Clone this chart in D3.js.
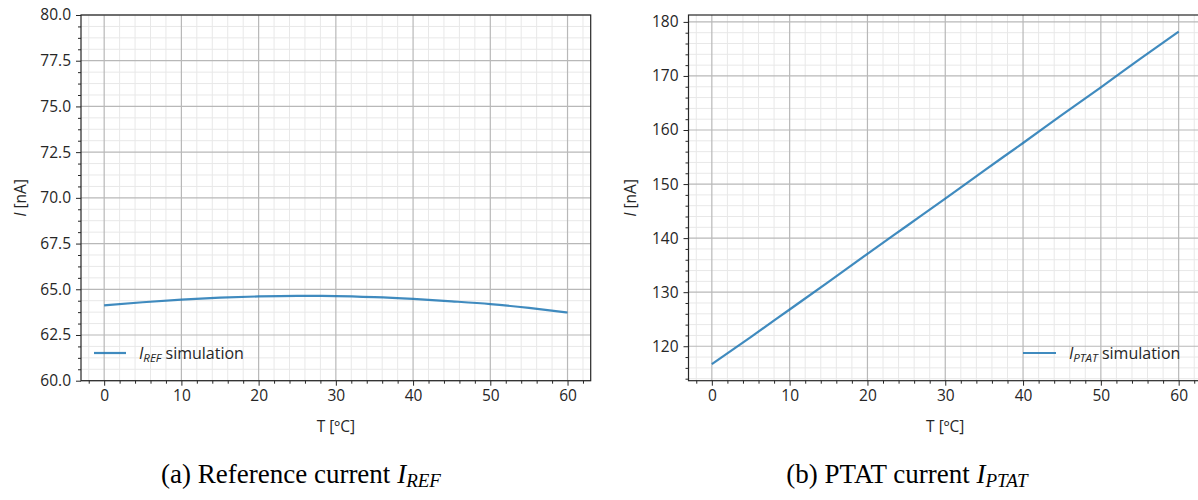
<!DOCTYPE html>
<html>
<head>
<meta charset="utf-8">
<script src="https://cdn.jsdelivr.net/npm/d3@7"></script>
<style>
  body { margin: 0; background: #fff; }
  svg text { font-family: "Open Sans", sans-serif; fill: #262626; }
  svg text.caption { font-family: "Liberation Serif", "Times New Roman", serif; fill: #000; }
</style>
</head>
<body>
<div id="chart"></div>
<script>
// Temperature sweep [ºC]
const temps = [0, 5, 10, 15, 20, 25, 30, 35, 40, 45, 50, 55, 60];
// Reference current I_REF [nA]
const iRef = [64.12, 64.29, 64.43, 64.54, 64.61, 64.64, 64.63, 64.57, 64.47, 64.34, 64.19, 63.98, 63.73];
// PTAT current I_PTAT [nA]
const iPtat = [116.7, 121.7, 126.8, 131.9, 137.1, 142.2, 147.3, 152.5, 157.6, 162.8, 167.9, 173.1, 178.2];

const xTicks = [0, 10, 20, 30, 40, 50, 60];
const refTicks = [60, 62.5, 65, 67.5, 70, 72.5, 75, 77.5, 80];
const ptatTicks = [120, 130, 140, 150, 160, 170, 180];

const FONT = 15.5;

const svg = d3
  .select("#chart")
  .append("svg")
  .attr("width", 1198)
  .attr("height", 500)
  .style("display", "block");

svg.append("rect").attr("width", 1198).attr("height", 500).attr("fill", "#fff");

class CurrentPanel {
  constructor(_config) {
    this.config = {
      left: _config.left,
      right: _config.right,
      top: 15,
      bottom: 380.7,
      values: _config.values,
      yDomain: _config.yDomain,
      yTicks: _config.yTicks,
      yMinorStep: _config.yMinorStep,
      yFormat: _config.yFormat,
      yLabelX: _config.yLabelX,
      legend: _config.legend,
      caption: _config.caption,
    };
    this.initVis();
  }

  initVis() {
    const vis = this;
    const c = vis.config;

    vis.g = svg.append("g");

    vis.x = d3.scaleLinear().domain([-3, 63]).range([c.left, c.right]);
    vis.y = d3.scaleLinear().domain(c.yDomain).range([c.bottom, c.top]);

    const xMinor = d3.range(-2, 63, 2).filter((d) => d % 10 !== 0);
    const yMinor = d3
      .range(c.yDomain[0] - (c.yDomain[0] % c.yMinorStep), c.yDomain[1], c.yMinorStep)
      .filter((d) => d >= c.yDomain[0] && d <= c.yDomain[1])
      .filter((d) => !c.yTicks.some((t) => Math.abs(t - d) < 1e-6));

    // Minor grid
    const grid = vis.g.append("g");
    grid
      .selectAll("line.xminor")
      .data(xMinor)
      .join("line")
      .attr("x1", (d) => vis.x(d))
      .attr("x2", (d) => vis.x(d))
      .attr("y1", c.top)
      .attr("y2", c.bottom)
      .attr("stroke", "#e8e8e8")
      .attr("stroke-width", 1);
    grid
      .selectAll("line.yminor")
      .data(yMinor)
      .join("line")
      .attr("x1", c.left)
      .attr("x2", c.right)
      .attr("y1", (d) => vis.y(d))
      .attr("y2", (d) => vis.y(d))
      .attr("stroke", "#e8e8e8")
      .attr("stroke-width", 1);

    // Major grid
    grid
      .selectAll("line.xmajor")
      .data(xTicks)
      .join("line")
      .attr("x1", (d) => vis.x(d))
      .attr("x2", (d) => vis.x(d))
      .attr("y1", c.top)
      .attr("y2", c.bottom)
      .attr("stroke", "#b8b8b8")
      .attr("stroke-width", 1.2);
    grid
      .selectAll("line.ymajor")
      .data(c.yTicks)
      .join("line")
      .attr("x1", c.left)
      .attr("x2", c.right)
      .attr("y1", (d) => vis.y(d))
      .attr("y2", (d) => vis.y(d))
      .attr("stroke", "#b8b8b8")
      .attr("stroke-width", 1.2);

    // Data line
    const line = d3
      .line()
      .curve(d3.curveMonotoneX)
      .x((d, i) => vis.x(temps[i]))
      .y((d) => vis.y(d));
    vis.g
      .append("path")
      .attr("d", line(c.values))
      .attr("fill", "none")
      .attr("stroke", "#1f77b4")
      .attr("stroke-opacity", 0.85)
      .attr("stroke-width", 2.2);

    // Axes
    const styleAxis = (sel) => {
      sel.select(".domain").remove();
      sel.selectAll("line").attr("stroke", "#262626");
      sel.selectAll("text").attr("font-family", "Open Sans").attr("font-size", FONT).attr("fill", "#262626");
    };

    vis.g
      .append("g")
      .attr("transform", `translate(0,${c.bottom})`)
      .call(d3.axisBottom(vis.x).tickValues(xTicks).tickSize(5).tickPadding(4))
      .call(styleAxis);
    vis.g
      .append("g")
      .attr("transform", `translate(0,${c.bottom})`)
      .call(d3.axisBottom(vis.x).tickValues(xMinor).tickSize(3).tickFormat(""))
      .call(styleAxis);
    vis.g
      .append("g")
      .attr("transform", `translate(${c.left},0)`)
      .call(d3.axisLeft(vis.y).tickValues(c.yTicks).tickSize(5).tickPadding(5).tickFormat(d3.format(c.yFormat)))
      .call(styleAxis);
    vis.g
      .append("g")
      .attr("transform", `translate(${c.left},0)`)
      .call(d3.axisLeft(vis.y).tickValues(yMinor).tickSize(3).tickFormat(""))
      .call(styleAxis);

    // Frame
    vis.g
      .append("rect")
      .attr("x", c.left)
      .attr("y", c.top)
      .attr("width", c.right - c.left)
      .attr("height", c.bottom - c.top)
      .attr("fill", "none")
      .attr("stroke", "#262626")
      .attr("stroke-width", 1.2);

    // Axis labels
    vis.g
      .append("text")
      .attr("x", (c.left + c.right) / 2)
      .attr("y", 432)
      .attr("text-anchor", "middle")
      .attr("font-size", FONT)
      .text("T [ºC]");

    const yl = vis.g
      .append("text")
      .attr("transform", `translate(${c.yLabelX},${(c.top + c.bottom) / 2}) rotate(-90)`)
      .attr("text-anchor", "middle")
      .attr("font-size", FONT);
    yl.append("tspan").attr("font-style", "italic").text("I");
    yl.append("tspan").text(" [nA]");

    // Legend
    const lg = c.legend;
    vis.g
      .append("line")
      .attr("x1", lg.x0)
      .attr("x2", lg.x1)
      .attr("y1", lg.y)
      .attr("y2", lg.y)
      .attr("stroke", "#1f77b4")
      .attr("stroke-opacity", 0.85)
      .attr("stroke-width", 2.2);
    const lt = vis.g
      .append("text")
      .attr("x", lg.textX)
      .attr("y", lg.y + 5.5)
      .attr("font-size", 16);
    lt.append("tspan").attr("font-style", "italic").text("I");
    lt.append("tspan").attr("font-style", "italic").attr("font-size", 11.5).attr("dy", 3).text(lg.sub);
    lt.append("tspan").attr("dy", -3).text(" simulation");

    // Caption
    const cap = vis.g
      .append("text")
      .attr("class", "caption")
      .attr("x", c.caption.cx)
      .attr("y", 483)
      .attr("text-anchor", "middle")
      .attr("font-size", 27);
    cap.append("tspan").text(c.caption.text + " ");
    cap.append("tspan").attr("font-style", "italic").text("I");
    cap.append("tspan").attr("font-style", "italic").attr("font-size", 19).attr("dy", 4).text(c.caption.sub);
  }
}

new CurrentPanel({
  left: 81,
  right: 590.7,
  values: iRef,
  yDomain: [60, 80],
  yTicks: refTicks,
  yMinorStep: 0.625,
  yFormat: ".1f",
  yLabelX: 26,
  legend: { x0: 94, x1: 126, y: 353, textX: 139, sub: "REF" },
  caption: { cx: 301, text: "(a) Reference current", sub: "REF" },
});

const ptatPad = (d3.max(iPtat) - d3.min(iPtat)) * 0.05;
new CurrentPanel({
  left: 688.5,
  right: 1202,
  values: iPtat,
  yDomain: [d3.min(iPtat) - ptatPad, d3.max(iPtat) + ptatPad],
  yTicks: ptatTicks,
  yMinorStep: 2,
  yFormat: "d",
  yLabelX: 636,
  legend: { x0: 1023, x1: 1056, y: 353, textX: 1069, sub: "PTAT" },
  caption: { cx: 907, text: "(b) PTAT current", sub: "PTAT" },
});
</script>
</body>
</html>
